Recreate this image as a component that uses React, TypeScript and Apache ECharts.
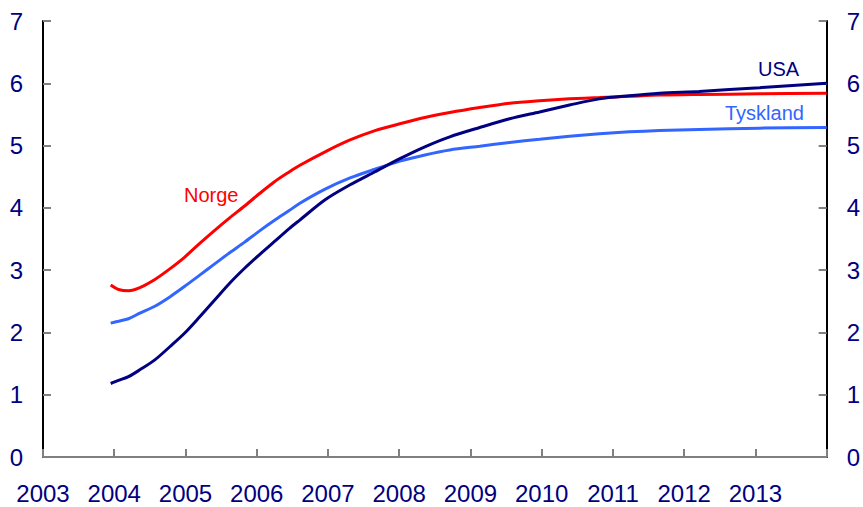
import React, { useEffect, useRef } from "react";
import * as echarts from "echarts";

const dates = [2003.95, 2004.06, 2004.2, 2004.36, 2004.57, 2004.78, 2004.99, 2005.2, 2005.41, 2005.62, 2005.83, 2006.04, 2006.25, 2006.46, 2006.6, 2006.96, 2007.31, 2007.66, 2008.01, 2008.36, 2008.71, 2009.13, 2009.55, 2009.97, 2010.39, 2010.81, 2011.23, 2011.65, 2012.21, 2013.06, 2014.0];

const norge = [2.76, 2.69, 2.67, 2.72, 2.85, 3.02, 3.21, 3.43, 3.64, 3.84, 4.03, 4.23, 4.42, 4.58, 4.68, 4.9, 5.09, 5.24, 5.35, 5.45, 5.53, 5.61, 5.68, 5.72, 5.75, 5.77, 5.79, 5.81, 5.82, 5.83, 5.84];
const usa = [1.18, 1.23, 1.29, 1.4, 1.56, 1.77, 1.99, 2.25, 2.52, 2.79, 3.03, 3.25, 3.46, 3.67, 3.8, 4.13, 4.37, 4.58, 4.79, 4.98, 5.14, 5.29, 5.43, 5.54, 5.65, 5.75, 5.8, 5.84, 5.87, 5.93, 6.0];
const tyskland = [2.15, 2.18, 2.22, 2.31, 2.42, 2.57, 2.74, 2.92, 3.1, 3.28, 3.45, 3.63, 3.8, 3.96, 4.07, 4.3, 4.48, 4.62, 4.75, 4.85, 4.93, 4.99, 5.05, 5.1, 5.15, 5.19, 5.22, 5.24, 5.26, 5.28, 5.29];

const yearLabels = ["2003", "2004", "2005", "2006", "2007", "2008", "2009", "2010", "2011", "2012", "2013"];

const NAVY = "#000080";
const RED = "#FF0000";
const BLUE = "#3366FF";
const FONT = "'Liberation Sans', Arial, sans-serif";

export default function App() {
  const ref = useRef<HTMLDivElement>(null);
  useEffect(() => {
    if (!ref.current) return;
    const chart = echarts.init(ref.current, null, { renderer: "svg" });
    const zip = (ys: number[]) => dates.map((d, i) => [d, ys[i]]);
    const lineSeries = (name: string, ys: number[], color: string) => ({
      name,
      type: "line",
      data: zip(ys),
      smooth: 0.3,
      showSymbol: false,
      lineStyle: { color, width: 3 },
      itemStyle: { color },
      z: 3,
    });
    chart.setOption({
      animation: false,
      backgroundColor: "#ffffff",
      grid: { left: 43, right: 36, top: 21, bottom: 50, containLabel: false },
      xAxis: [
        {
          type: "value",
          min: 2003,
          max: 2014,
          interval: 1,
          position: "bottom",
          axisLine: { show: true, lineStyle: { color: "#000000", width: 2 } },
          axisTick: { show: true, inside: true, length: 8, lineStyle: { color: "#808080", width: 2 } },
          axisLabel: {
            color: NAVY,
            fontSize: 24,
            fontFamily: FONT,
            margin: 24,
            formatter: (v: number) => {
              const s = String(Math.round(v));
              return yearLabels.indexOf(s) >= 0 ? s : "";
            },
          },
          splitLine: { show: false },
        },
        {
          type: "value",
          min: 2003,
          max: 2014,
          interval: 1,
          position: "top",
          axisLine: { show: true, lineStyle: { color: "#808080", width: 2 } },
          axisTick: { show: false },
          axisLabel: { show: false },
          splitLine: { show: false },
        },
      ],
      yAxis: [
        {
          type: "value",
          min: 0,
          max: 7,
          interval: 1,
          position: "left",
          axisLine: { show: true, lineStyle: { color: "#000000", width: 2 } },
          axisTick: { show: true, inside: true, length: 8, lineStyle: { color: "#808080", width: 2 } },
          axisLabel: { color: NAVY, fontSize: 24, fontFamily: FONT, margin: 20 },
          splitLine: { show: false },
        },
        {
          type: "value",
          min: 0,
          max: 7,
          interval: 1,
          position: "right",
          axisLine: { show: true, lineStyle: { color: "#000000", width: 2 } },
          axisTick: { show: true, inside: true, length: 8, lineStyle: { color: "#808080", width: 2 } },
          axisLabel: { color: NAVY, fontSize: 24, fontFamily: FONT, margin: 20 },
          splitLine: { show: false },
        },
      ],
      series: [
        lineSeries("Tyskland", tyskland, BLUE),
        lineSeries("Norge", norge, RED),
        lineSeries("USA", usa, NAVY),
      ],
      graphic: [
        { type: "text", left: 184, top: 185, style: { text: "Norge", fill: RED, font: `20px ${FONT}` } },
        { type: "text", left: 758, top: 59, style: { text: "USA", fill: NAVY, font: `20px ${FONT}` } },
        { type: "text", left: 725, top: 103, style: { text: "Tyskland", fill: BLUE, font: `20px ${FONT}` } },
      ],
    });
    return () => chart.dispose();
  }, []);
  return <div ref={ref} style={{ width: 863, height: 507, position: "absolute", left: 0, top: 0 }} />;
}
